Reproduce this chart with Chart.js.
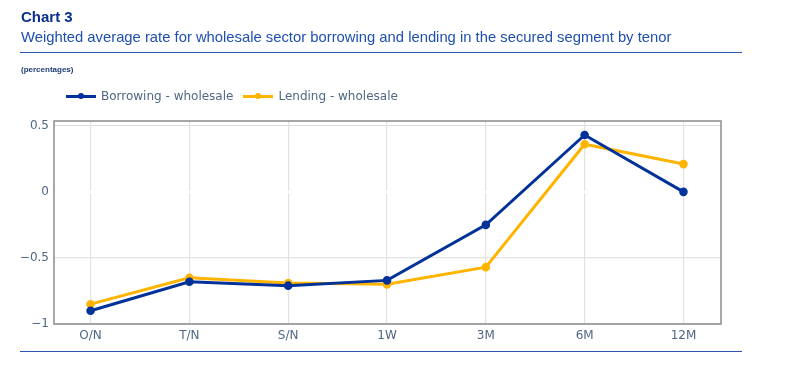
<!DOCTYPE html>
<html>
<head>
<meta charset="utf-8">
<script src="https://cdn.jsdelivr.net/npm/chart.js@4.4.0/dist/chart.umd.min.js"></script>
<style>
body{margin:0;background:#fff;}
#wrap{position:relative;width:800px;height:368px;overflow:hidden;font-family:"Liberation Sans",Arial,sans-serif;}
#wrap canvas{position:absolute;left:0;top:0;}
.t1{position:absolute;left:21px;top:8px;font-size:15px;font-weight:bold;color:#0b2f8f;}
.t2{position:absolute;left:21px;top:29px;font-size:14.8px;color:#1f4fb0;white-space:nowrap;}
.rule{position:absolute;left:20px;width:722px;height:1px;background:#2b55b0;}
.unit{position:absolute;left:21px;top:65px;font-size:8px;font-weight:bold;color:#1e3a78;}
#legend{position:absolute;left:66px;top:89px;font-family:"DejaVu Sans",Verdana,sans-serif;font-size:12px;color:#506784;display:flex;}
.item{display:flex;align-items:center;margin-right:10px;}
.swatch{position:relative;width:30px;height:3px;margin-right:5px;}
.swatch i{position:absolute;left:12px;top:-1.5px;width:6px;height:6px;border-radius:50%;}
</style>
</head>
<body>
<div id="wrap">
<canvas id="chart" width="800" height="368"></canvas>
<div class="t1">Chart 3</div>
<div class="t2">Weighted average rate for wholesale sector borrowing and lending in the secured segment by tenor</div>
<div class="rule" style="top:52px"></div>
<div class="unit">(percentages)</div>
<div id="legend"></div>
<div class="rule" style="top:351px"></div>
</div>
<script>
/* DATA */

const tenors=["O/N","T/N","S/N","1W","3M","6M","12M"];
const borrowing=[-0.90,-0.68,-0.71,-0.67,-0.25,0.43,0.00];
const lending=[-0.85,-0.65,-0.69,-0.70,-0.57,0.36,0.21];
const yTicks=[-1,-0.5,0,0.5];

const seriesNames=["Borrowing - wholesale","Lending - wholesale"];
const seriesColors=["#003299","#FFB400"];

/* LEGEND */

const legend=document.getElementById("legend");
seriesNames.forEach((n,i)=>{
let d=document.createElement("div");
d.className="item";
d.innerHTML='<span class="swatch" style="background:'+seriesColors[i]+'"><i style="background:'+seriesColors[i]+'"></i></span>'+n;
legend.appendChild(d);
});

/* PLOT BOX */

const boxPlugin={
id:"box",
afterDraw(chart){
const a=chart.chartArea,c=chart.ctx;
c.save();
c.strokeStyle="#8c8c8c";
c.lineWidth=1.5;
c.strokeRect(a.left,a.top,a.right-a.left,a.bottom-a.top);
c.restore();
}
};

function pts(arr){ return arr.map((v,i)=>({x:i,y:v})); }

const tickFont={family:"'DejaVu Sans', Verdana, sans-serif",size:12};

new Chart(document.getElementById("chart"),{
type:"line",
data:{
datasets:[
{label:seriesNames[0],data:pts(borrowing),borderColor:seriesColors[0],backgroundColor:seriesColors[0],borderWidth:3,pointRadius:2.8,pointHoverRadius:2.8,order:1},
{label:seriesNames[1],data:pts(lending),borderColor:seriesColors[1],backgroundColor:seriesColors[1],borderWidth:3,pointRadius:2.8,pointHoverRadius:2.8,order:2}
]
},
options:{
responsive:false,
animation:false,
events:[],
layout:{padding:{left:0,right:79,top:121,bottom:26}},
plugins:{legend:{display:false},tooltip:{enabled:false}},
scales:{
x:{
type:"linear",
min:-0.37,
max:tenors.length-1+0.38,
afterBuildTicks:(s)=>{ s.ticks=tenors.map((t,i)=>({value:i})); },
afterFit:(s)=>{ s.height=18; },
ticks:{callback:(v)=>tenors[v],color:"#506784",font:tickFont,padding:5,maxRotation:0},
grid:{color:"#e3e3e3",lineWidth:1.2,drawTicks:false},
border:{display:false}
},
y:{
min:-1,
max:0.536,
afterBuildTicks:(s)=>{ s.ticks=yTicks.map(v=>({value:v})); },
afterFit:(s)=>{ s.width=54; },
ticks:{callback:(v)=>v<0?"\u2212"+Math.abs(v):String(v),color:"#506784",font:tickFont,padding:5},
grid:{color:(c)=>c.tick&&c.tick.value===0?"#ffffff":"#e3e3e3",lineWidth:(c)=>c.tick&&c.tick.value===0?2:1.2,drawTicks:false},
border:{display:false}
}
}
},
plugins:[boxPlugin]
});
</script>
</body>
</html>
